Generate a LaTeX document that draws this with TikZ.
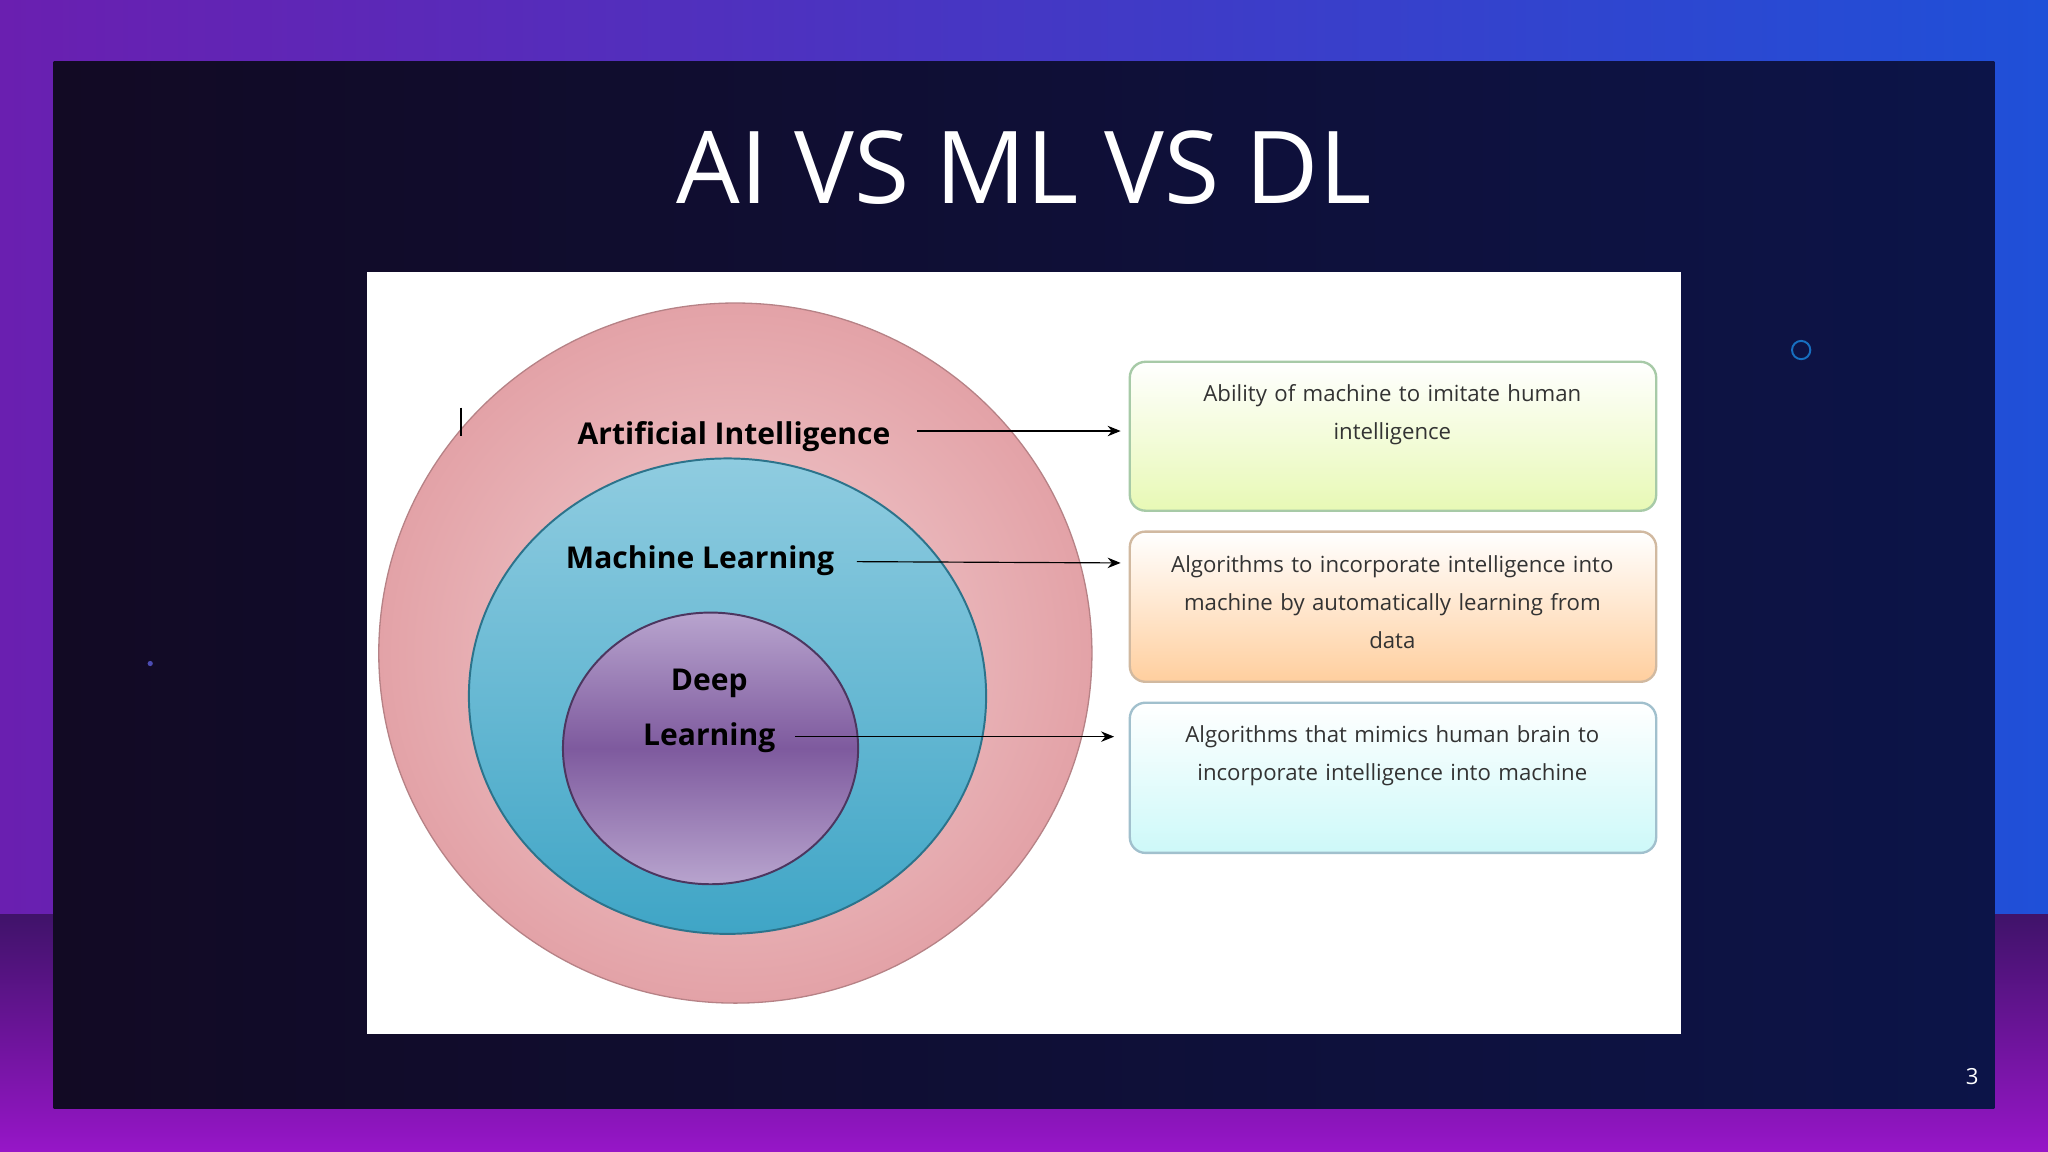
\documentclass[tikz,border=0pt]{standalone}
\usepackage{fontspec}
\setmainfont{Open Sans}
\usetikzlibrary{arrows.meta}
\definecolor{frameL}{HTML}{6A1FB0}
\definecolor{frameR}{HTML}{1F50D8}
\definecolor{inner}{HTML}{120A24}
\definecolor{innerR}{HTML}{0C1448}
\definecolor{pinkA}{HTML}{F2D0D3}
\definecolor{pinkB}{HTML}{E3A2A7}
\definecolor{tealA}{HTML}{8FCCE0}
\definecolor{tealB}{HTML}{3FA5C6}
\definecolor{purA}{HTML}{B8A4CE}
\definecolor{purB}{HTML}{7E5A9E}
\tikzset{
 lab/.style={font=\fontsize{23}{27}\selectfont\bfseries, text=black},
 desc/.style={font=\fontsize{17}{29}\selectfont, text=black!80, align=center, text width=390pt, anchor=north},
 dbox/.style={rounded corners=12pt, line width=1.8pt},
 arr/.style={-{Stealth[length=10pt,width=8pt]}, line width=0.9pt}
}
\begin{document}
\begin{tikzpicture}[x=1pt,y=-1pt]
\useasboundingbox (0,0) rectangle (1568,882);
\shade[left color=frameL, right color=frameR] (0,0) rectangle (1568,882);
\shade[top color=frameL!60!black, bottom color=frameL!70!magenta] (0,700) rectangle (1568,882);
\shade[left color=inner, right color=innerR] (41,47) rectangle (1527,849);
\node[font=\fontsize{77}{86}\selectfont, text=white] (title) at (784,128) {AI VS ML VS DL};
\fill[white] (281,208) rectangle (1287,792);
% circles
\shade[inner color=pinkA, outer color=pinkB, draw=pinkB!80!black, line width=1pt] (563,500) ellipse [x radius=273, y radius=268];
\shade[top color=tealA, bottom color=tealB, draw=tealB!70!black, line width=1.5pt] (557,533) ellipse [x radius=198, y radius=182];
\shade[top color=purA, bottom color=purA, middle color=purB, draw=purB!60!black, line width=1.5pt] (544,573) ellipse [x radius=113, y radius=104];
\node[lab] (ai) at (562,334) {Artificial Intelligence};
\node[lab] (ml) at (536,429) {Machine Learning};
\node[lab] (dl1) at (543,523) {Deep};
\node[lab] (dl) at (543,565) {Learning};
% boxes
\shade[dbox, top color=white, bottom color=green!25!yellow!28!white!95!gray, draw=green!25!gray!55] (865,277) rectangle (1268,391);
\shade[dbox, top color=white, bottom color=orange!38!white, draw=orange!35!gray!55] (865,407) rectangle (1268,522);
\shade[dbox, top color=white, bottom color=cyan!18!white!95!gray, draw=cyan!35!gray!65] (865,538) rectangle (1268,653);
\node[desc] (b1) at (1066,291) {Ability of machine to imitate human\\intelligence};
\node[desc] (b2) at (1066,422) {Algorithms to incorporate intelligence into\\machine by automatically learning from\\data};
\node[desc] (b3) at (1066,552) {Algorithms that mimics human brain to\\incorporate intelligence into machine};
\coordinate (s1) at (702,330);
\coordinate (s2) at (656,430);
\coordinate (s3) at (609,564);
\coordinate (e1) at (858,330);
\coordinate (e2) at (858,431);
\coordinate (e3) at (853,564);
\draw[arr] (s1) -- (e1);
\draw[arr] (s2) -- (e2);
\draw[arr] (s3) -- (e3);
\draw[line width=1.2pt] (353,312) -- (353,334);
\draw[cyan!50!blue, line width=1.5pt] (1379,268) circle (7);
\fill[blue!40!gray] (115,508) circle (2);
\node[text=white, font=\fontsize{17}{20}\selectfont] (pg) at (1510,824) {3};
\end{tikzpicture}
\end{document}
